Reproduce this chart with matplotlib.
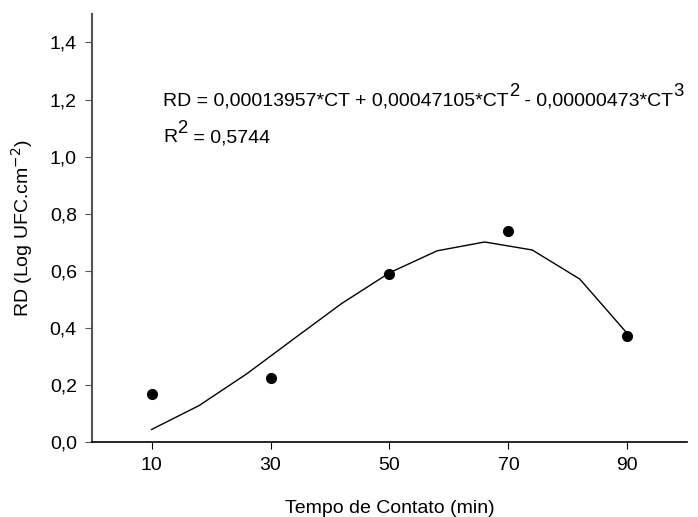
import matplotlib
matplotlib.use("Agg")
import matplotlib.pyplot as plt

plt.rcParams['font.family'] = ['Liberation Sans', 'DejaVu Sans']

# observed points
ct_obs = [10, 30, 50, 70, 90]
rd_obs = [0.17, 0.225, 0.59, 0.74, 0.37]

# fitted curve
ct_fit = [10, 18, 26, 34, 42, 50, 58, 66, 74, 82, 90]
rd_fit = [0.044, 0.128, 0.239, 0.363, 0.486, 0.593, 0.670, 0.701, 0.673, 0.571, 0.380]

x_ticks = [10, 30, 50, 70, 90]
y_ticks = [0.0, 0.2, 0.4, 0.6, 0.8, 1.0, 1.2, 1.4]

FS = 14


def write_pieces(ax, x, y, pieces):
    # pieces: list of (text, is_superscript); drawn one after another
    fig = ax.figure
    fig.canvas.draw()
    r = fig.canvas.get_renderer()
    px, py = ax.transData.transform((x, y))
    for s, sup in pieces:
        yy = py + (9 if sup else 0)
        t = ax.text(px, yy, s, fontsize=FS * (0.95 if sup else 1.0),
                    transform=None, va='baseline', ha='left')
        bb = t.get_window_extent(renderer=r)
        px = bb.x1


fig = plt.figure(figsize=(6.98, 5.17), dpi=100)
ax = fig.add_axes([0.132, 0.145, 0.852, 0.828])

ax.plot(ct_fit, rd_fit, color='black', linewidth=1.0)
ax.plot(ct_obs, rd_obs, 'o', color='black', markersize=7)

ax.set_xlim(0, 100)
ax.set_ylim(0, 1.5)
ax.set_xticks(x_ticks)
ax.set_yticks(y_ticks)
ax.set_yticklabels([f"{v:.1f}".replace('.', ',') for v in y_ticks])

ax.spines['top'].set_visible(False)
ax.spines['right'].set_visible(False)
ax.spines['left'].set_color('#555555')
ax.spines['left'].set_linewidth(1.5)
ax.spines['bottom'].set_linewidth(1.2)
ax.tick_params(axis='both', direction='out', length=5, labelsize=FS, pad=6)
ax.tick_params(axis='y', color='#555555')

ax.set_xlabel('Tempo de Contato (min)', fontsize=FS)
ax.set_ylabel('RD (Log UFC.cm$^{-2}$)', fontsize=FS)
ax.xaxis.set_label_coords(0.5, -0.135)
ax.yaxis.set_label_coords(-0.096, 0.5)

write_pieces(ax, 12.0, 1.18, [
    ('RD = 0,00013957*CT + 0,00047105*CT', False), ('2', True),
    (' - 0,00000473*CT', False), ('3', True)])
write_pieces(ax, 12.0, 1.05, [('R', False), ('2', True), (' = 0,5744', False)])

fig.savefig('out.png', dpi=100)
